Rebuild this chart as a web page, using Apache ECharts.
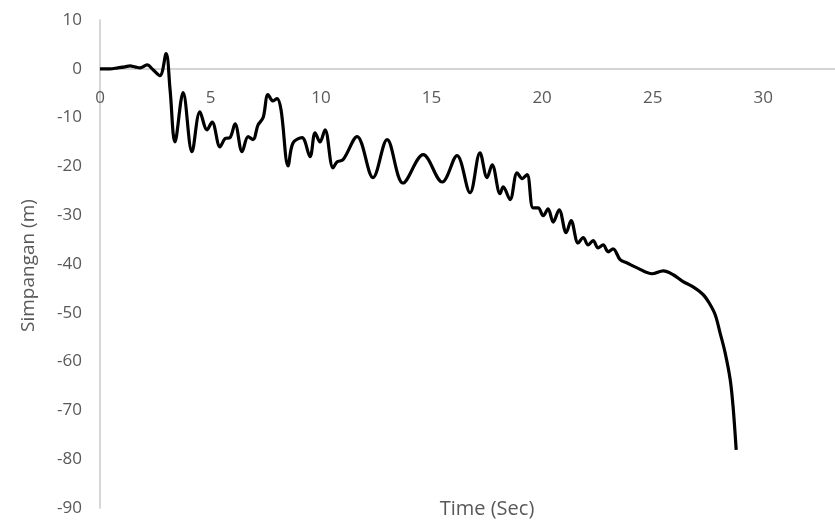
<!DOCTYPE html>
<html>
<head>
  <meta charset="utf-8">
  <title>Simpangan vs Time</title>
  <script src="https://cdn.jsdelivr.net/npm/echarts@6/dist/echarts.min.js"></script>
  <style>
    html, body { margin: 0; padding: 0; background: #fff; }
    #chart { width: 835px; height: 525px; }
  </style>
</head>
<body>
<div id="chart"></div>
<script>
  // data
  var timeData = [0, 0.45, 0.81, 1.13, 1.36, 1.58, 1.81, 2.13, 2.40, 2.71, 2.99, 3.17, 3.39, 3.76, 4.16, 4.52, 4.84, 5.07,
    5.43, 5.66, 5.88, 6.11, 6.43, 6.70, 6.92, 7.15, 7.38, 7.60, 7.83, 8.01, 8.19, 8.51, 8.73, 9.14, 9.50, 9.73, 9.95,
    10.18, 10.54, 10.72, 11.0, 11.63, 12.35, 12.99, 13.71, 14.62, 15.48, 16.15, 16.74, 17.19, 17.51, 17.74, 18.10,
    18.24, 18.55, 18.87, 19.10, 19.32, 19.59, 19.82, 20.05, 20.27, 20.50, 20.77, 21.09, 21.31, 21.63, 21.86, 22.08,
    22.31, 22.53, 22.76, 22.99, 23.21, 23.53, 23.85, 24.30, 24.98, 25.48, 25.93, 26.38, 26.83, 27.29, 27.56, 27.83,
    28.05, 28.28, 28.51, 28.64, 28.78];
  var simpanganData = [0, 0, 0.2, 0.4, 0.6, 0.4, 0.2, 0.8, -0.2, -1.4, 3.1, -4.3, -15.0, -4.9, -17.0, -8.8, -12.5, -10.9,
    -16.0, -14.3, -14.1, -11.3, -17.0, -13.9, -14.5, -11.5, -10.0, -5.3, -6.6, -6.1, -8.4, -19.9, -15.2, -14.1, -18.0,
    -13.1, -15.0, -12.5, -20.3, -19.1, -18.6, -13.9, -22.3, -14.5, -23.4, -17.6, -23.2, -17.8, -25.4, -17.2, -22.3,
    -19.7, -25.6, -24.2, -26.8, -21.3, -22.5, -21.7, -28.5, -28.5, -30.1, -28.7, -31.4, -28.9, -33.6, -31.1, -35.7,
    -34.6, -36.1, -35.2, -36.7, -36.1, -37.5, -36.9, -39.1, -39.8, -40.8, -42.0, -41.4, -42.2, -43.6, -44.7, -46.3,
    -48.0, -50.4, -54.1, -58.2, -63.7, -69.3, -78.1];
  var xTicks = [0, 5, 10, 15, 20, 25, 30];
  var yTicks = [10, 0, -10, -20, -30, -40, -50, -60, -70, -80, -90];

  var seriesData = [];
  for (var i = 0; i < timeData.length; i++) {
    seriesData.push([timeData[i], simpanganData[i]]);
  }

  // grid size, used to lift the x axis up to y = 0
  var gridTop = 20, gridBottom = 17, chartH = 525;
  var yMin = yTicks[yTicks.length - 1], yMax = yTicks[0];
  var plotH = chartH - gridTop - gridBottom;
  var zeroOffset = -plotH * (0 - yMin) / (yMax - yMin);

  var myChart = echarts.init(document.getElementById('chart'));
  var fontName = 'Open Sans';
  var option = {
    animation: false,
    textStyle: { fontFamily: fontName },
    grid: { left: 100, right: 0, top: gridTop, bottom: gridBottom, containLabel: false, outerBoundsMode: 'none' },
    xAxis: {
      type: 'value',
      min: 0,
      max: 33.25,
      interval: 5,
      offset: zeroOffset,
      axisLine: { onZero: false, lineStyle: { color: '#c8c8c8', width: 1.5 } },
      axisTick: { show: false },
      splitLine: { show: false },
      axisLabel: {
        color: '#595959',
        fontSize: 17,
        margin: 21,
        formatter: function (v) {
          return xTicks.indexOf(v) >= 0 ? String(v) : '';
        }
      }
    },
    yAxis: {
      type: 'value',
      min: yMin,
      max: yMax,
      interval: 10,
      axisLine: { show: true, onZero: false, lineStyle: { color: '#c8c8c8', width: 1.5 } },
      axisTick: { show: false },
      splitLine: { show: false },
      axisLabel: { color: '#595959', fontSize: 17, margin: 18 }
    },
    graphic: [{
      type: 'text',
      x: 487,
      y: 499,
      style: { text: 'Time (Sec)', fill: '#595959', fontSize: 20, fontFamily: fontName, align: 'center' }
    }, {
      type: 'text',
      x: 19,
      y: 332,
      rotation: Math.PI / 2,
      style: { text: 'Simpangan (m)', fill: '#595959', fontSize: 19, fontFamily: fontName }
    }],
    series: [{
      name: 'Simpangan',
      type: 'line',
      data: seriesData,
      showSymbol: false,
      smooth: 0.35,
      lineStyle: { color: '#000', width: 3.2 }
    }]
  };
  myChart.setOption(option);
</script>
</body>
</html>
